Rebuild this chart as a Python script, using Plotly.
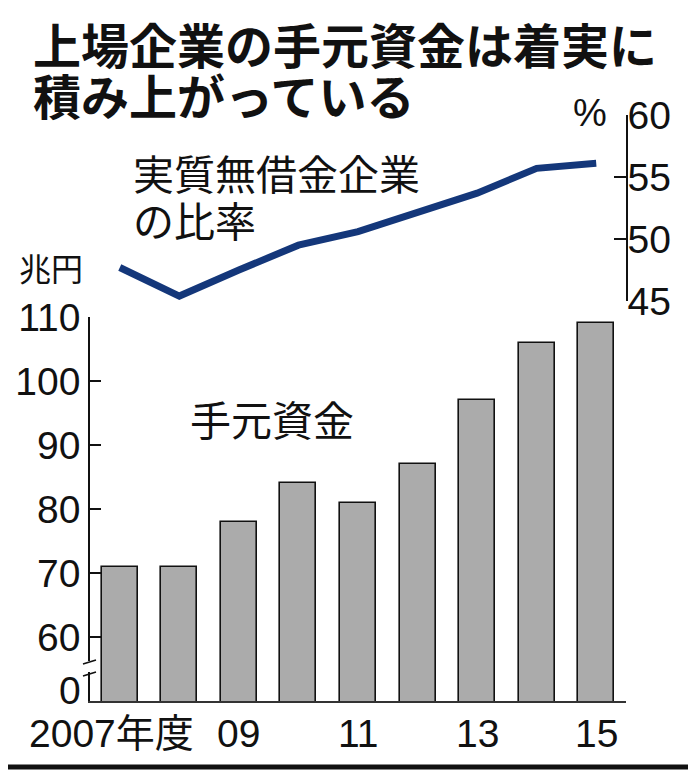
import plotly.graph_objects as go

# ---- data ----
years = [2007, 2008, 2009, 2010, 2011, 2012, 2013, 2014, 2015]
cash_trillion_yen = [71, 71, 78, 84, 81, 87, 97, 106, 109]          # 手元資金 (兆円)
debt_free_ratio = [47.7, 45.4, 47.5, 49.5, 50.6, 52.2, 53.7, 55.7, 56.1]  # 実質無借金企業の比率 (%)
x_label_years = [2007, 2009, 2011, 2013, 2015]
x_label_text = ["2007年度", "09", "11", "13", "15"]
left_tick_vals = [60, 70, 80, 90, 100, 110]
left_tick_text = ["60", "70", "80", "90", "100", "110"]
right_tick_vals = [45, 50, 55, 60]
right_tick_text = ["45", "50", "55", "60"]

# page body has an 8px margin: lay out in window pixels, then offset
OX, OY = 8, 8
W, H = 696 - OX, 770 - OY
NUM = "Liberation Sans Narrow, Arial Narrow, Liberation Sans, Noto Sans CJK JP"
CJK = "Noto Sans CJK JP"
NUM_SIZE = 39

def px(x):
    return (x - OX) / W

def py(y):
    return 1 - (y - OY) / H

BAR_BOTTOM, BAR_TOP = 701, 317
LINE_BOTTOM, LINE_TOP = 301, 115
X_LEFT, X_RIGHT = 90, 626

fig = go.Figure()
fig.add_trace(go.Bar(
    x=years, y=cash_trillion_yen, width=0.605,
    marker=dict(color="#ababab", line=dict(color="#111111", width=1.6)),
    xaxis="x", yaxis="y", showlegend=False,
))
fig.add_trace(go.Scatter(
    x=years, y=debt_free_ratio, mode="lines",
    line=dict(color="#14377a", width=7),
    xaxis="x", yaxis="y2", showlegend=False,
))

fig.update_layout(
    template="none",
    width=W, height=H, autosize=False,
    margin=dict(l=0, r=0, t=0, b=0, pad=0),
    paper_bgcolor="white", plot_bgcolor="white",
    bargap=0,
    xaxis=dict(
        domain=[px(X_LEFT), px(X_RIGHT)], range=[2006.5, 2015.5],
        showline=True, linecolor="#333333", linewidth=2,
        showgrid=False, zeroline=False, ticks="", showticklabels=False,
        anchor="y", fixedrange=True, automargin=False,
    ),
    yaxis=dict(
        domain=[py(BAR_BOTTOM), py(BAR_TOP)], range=[50, 110],
        tickvals=left_tick_vals, ticktext=left_tick_text,
        ticks="inside", ticklen=11, tickwidth=1.5, tickcolor="#111111",
        showline=True, linecolor="#111111", linewidth=1.5,
        showgrid=False, zeroline=False,
        tickfont=dict(family=NUM, size=NUM_SIZE, color="#111111"),
        ticklabelstandoff=0, anchor="x", automargin=False,
    ),
    yaxis2=dict(
        domain=[py(LINE_BOTTOM), py(LINE_TOP)], range=[45, 60],
        tickvals=right_tick_vals, ticktext=right_tick_text,
        side="right", anchor="x",
        ticks="inside", ticklen=12, tickwidth=1.5, tickcolor="#111111",
        showline=True, linecolor="#111111", linewidth=1.5,
        showgrid=False, zeroline=False,
        tickfont=dict(family=NUM, size=NUM_SIZE, color="#111111"),
        ticklabelstandoff=-8, automargin=False,
    ),
)

def yval(ypix):
    return 50 + (BAR_BOTTOM - ypix) / (BAR_BOTTOM - BAR_TOP) * 60

# broken axis: gap and marks
fig.add_shape(type="rect", xref="paper", yref="y",
              x0=px(87), x1=px(94), y0=yval(672), y1=yval(661),
              fillcolor="white", line=dict(width=0), layer="above")
for y_a, y_b in [(664, 660), (676, 672)]:
    fig.add_shape(type="line", xref="paper", yref="y",
                  x0=px(83), x1=px(96), y0=yval(y_a), y1=yval(y_b),
                  line=dict(color="#111111", width=1.5), layer="above")

# frame (bottom and right edges)
fig.add_shape(type="line", xref="paper", yref="paper", x0=0, x1=1, y0=py(767), y1=py(767),
              line=dict(color="#111111", width=5))
fig.add_shape(type="line", xref="paper", yref="paper", x0=px(695), x1=px(695), y0=0, y1=1,
              line=dict(color="#111111", width=2.5))

def ann(text, x, y, size, family=CJK, xanchor="left", weight="normal", xref="paper", xshift=0):
    fig.add_annotation(text=text, x=x, y=py(y), xref=xref, yref="paper",
                       xanchor=xanchor, yanchor="middle", showarrow=False,
                       xshift=xshift,
                       font=dict(family=family, size=size, color="#111111", weight=weight))

ann("上場企業の手元資金は着実に", px(31), 43, 48, weight="bold")
ann("積み上がっている", px(31), 94, 48, weight="bold")
ann("実質無借金企業", px(131), 172, 41)
ann("の比率", px(131), 219, 41)
ann("手元資金", px(272), 418, 41, xanchor="center")
ann("兆円", px(17), 267, 32)
ann("%", px(590), 113, 38, family=NUM, xanchor="center")
ann("0", px(83), 690, NUM_SIZE, family=NUM, xanchor="right")

for xv, t in zip(x_label_years, x_label_text):
    ann(t, xv, 733, NUM_SIZE, family=NUM, xanchor="center", xref="x",
        xshift=(-8 if t.endswith("年度") else 0))

fig.write_html("out.html")
